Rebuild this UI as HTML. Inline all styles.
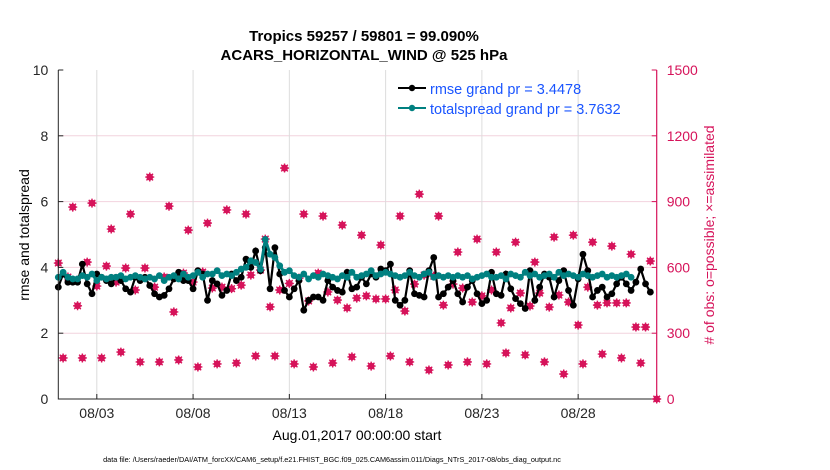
<!DOCTYPE html>
<html><head><meta charset="utf-8"><style>
body{margin:0;background:#fff;}
svg{display:block;font-family:"Liberation Sans",sans-serif;}
</style></head><body>
<svg id="chart" width="830" height="470" viewBox="0 0 830 470" xmlns="http://www.w3.org/2000/svg">
<rect width="830" height="470" fill="#fff"/>
<text x="364" y="41" font-size="15" font-weight="bold" text-anchor="middle" fill="#000">Tropics 59257 / 59801 = 99.090%</text>
<text x="364" y="60" font-size="15" font-weight="bold" text-anchor="middle" fill="#000">ACARS_HORIZONTAL_WIND @ 525 hPa</text>
<g id="grid"></g>
<g id="marks"></g>
<g id="axes"></g>
<text transform="translate(29,235) rotate(-90)" font-size="14" text-anchor="middle" fill="#000">rmse and totalspread</text>
<text transform="translate(714,235) rotate(-90)" font-size="14" text-anchor="middle" fill="#d6135a">#  of obs: o=possible; ×=assimilated</text>
<text x="357" y="440" font-size="14" text-anchor="middle" fill="#000">Aug.01,2017 00:00:00 start</text>
<text x="332" y="462" font-size="7.3" text-anchor="middle" fill="#000">data file: /Users/raeder/DAI/ATM_forcXX/CAM6_setup/f.e21.FHIST_BGC.f09_025.CAM6assim.011/Diags_NTrS_2017-08/obs_diag_output.nc</text>
<g>
<line x1="398" y1="88" x2="426" y2="88" stroke="#000" stroke-width="2"/>
<circle cx="412" cy="88" r="3.2" fill="#000"/>
<text x="430" y="94" font-size="14.5" fill="#1a55ff">rmse grand pr = 3.4478</text>
<line x1="398" y1="108" x2="426" y2="108" stroke="#008080" stroke-width="2"/>
<circle cx="412" cy="108" r="3.2" fill="#008080"/>
<text x="430" y="114" font-size="14.5" fill="#1a55ff">totalspread grand pr = 3.7632</text>
</g>
</svg>
<script>
// 6-hourly values, 31 days
const rmse = [3.4,3.8,3.55,3.55, 3.55,4.1,3.5,3.2, 3.8,3.7,3.6,3.5, 3.7,3.6,3.35,3.25, 3.7,3.6,3.7,3.45, 3.2,3.1,3.15,3.35, 3.65,3.85,3.6,3.6, 3.35,3.9,3.8,3.0, 3.6,3.5,3.15,3.3, 3.8,3.6,3.7,4.25, 4.0,4.5,3.9,4.6, 3.35,4.6,3.8,3.3, 3.1,3.35,3.6,2.7, 3.0,3.1,3.1,3.0, 3.6,3.4,3.3,3.25, 3.85,3.35,3.4,3.7, 3.5,3.8,3.7,3.95, 3.9,4.1,3.0,2.85, 3.0,3.9,3.2,3.15, 3.1,3.9,4.3,3.1, 3.2,3.4,3.6,3.2, 2.95,3.4,3.6,3.2, 2.9,3.0,3.85,3.2, 3.15,3.8,3.35,3.05, 2.9,2.75,3.9,3.0, 3.4,3.8,3.7,3.1, 3.6,3.9,3.3,2.85, 3.65,4.4,3.9,3.1, 3.3,3.4,3.1,3.2, 3.5,3.7,3.5,3.3, 3.55,3.95,3.5,3.25];
const spread = [3.7,3.85,3.7,3.65, 3.65,3.75,3.7,3.8, 3.6,3.7,3.65,3.7, 3.7,3.75,3.65,3.7, 3.75,3.7,3.65,3.7, 3.65,3.75,3.6,3.7, 3.75,3.65,3.8,3.7, 3.75,3.85,3.7,3.8, 3.8,3.9,3.75,3.8, 3.75,3.85,3.95,4.0, 4.2,4.15,3.95,4.85, 4.4,4.3,4.05,3.85, 3.9,3.75,3.7,3.8, 3.65,3.75,3.7,3.8, 3.75,3.7,3.65,3.75, 3.7,3.85,3.7,3.75, 3.8,3.9,3.75,3.8, 3.85,3.8,3.75,3.7, 3.75,3.85,3.75,3.7, 3.8,3.85,3.7,3.75, 3.7,3.75,3.7,3.75, 3.7,3.75,3.65,3.7, 3.75,3.8,3.7,3.7, 3.75,3.65,3.8,3.75, 3.7,3.85,3.75,3.8, 3.7,3.75,3.8,3.7, 3.85,3.75,3.8,3.75, 3.7,3.8,3.75,3.7, 3.75,3.8,3.7,3.75, 3.7,3.75,3.8,3.7];
// obs counts by synoptic hour (31 days each)
const obs00 = [620,425,515,533,497,510,397,533,506,503,565,420,527,447,488,415,470,456,401,565,428,506,470,347,483,483,474,337,428,438,328];
const obs06 = [187,187,187,214,169,169,178,146,160,164,196,196,160,146,164,192,150,196,169,132,155,169,160,210,201,169,114,160,205,187,164];
const obs12 = [556,624,606,597,597,556,574,579,510,519,588,497,551,574,451,460,456,497,524,560,524,442,497,415,424,419,442,510,438,438,328];
const obs18 = [875,893,775,843,1012,879,770,802,862,843,729,1053,843,834,793,747,702,834,934,834,670,729,670,715,624,738,747,715,697,660,629];
const xTicks = [2,7,12,17,22,27];
const xTickLabels = ['08/03','08/08','08/13','08/18','08/23','08/28'];
const yTicks = [0,2,4,6,8,10];
const yTicksRight = [0,300,600,900,1200,1500];

const L=58.3,R=656.7,T=70,B=399, XMAX=31.08;
const xs = d => L + (d/XMAX)*(R-L);
const yL = v => B - (v/10)*(B-T);
const yR = v => B - (v/1500)*(B-T);
const NS='http://www.w3.org/2000/svg';
function mk(tag, attrs, parent){const e=document.createElementNS(NS,tag);for(const k in attrs)e.setAttribute(k,attrs[k]);parent.appendChild(e);return e;}
const grid=document.getElementById('grid'), marks=document.getElementById('marks'), axes=document.getElementById('axes');

yTicks.slice(1,-1).forEach(v=>{
  const g=mk('line',{x1:L,x2:R,y1:yL(v),y2:yL(v),stroke:'#f2d3de','stroke-width':1},grid);
  
  
});
xTicks.forEach(d=>{
  const g=mk('line',{x1:xs(d),x2:xs(d),y1:T,y2:B,stroke:'#dcdcdc','stroke-width':1},grid);
  
  
});

function obsMark(d,v){
  const x=xs(d), y=yR(v);
  const g=mk('g',{},marks);
  
  
  mk('circle',{cx:x,cy:y,r:3.4,fill:'#d6135a'},g);
  mk('path',{d:`M${x-4.5} ${y}H${x+4.5}M${x} ${y-4.5}V${y+4.5}M${x-3.3} ${y-3.3}L${x+3.3} ${y+3.3}M${x-3.3} ${y+3.3}L${x+3.3} ${y-3.3}`,stroke:'#d6135a','stroke-width':1.4},g);
}
[obs00,obs06,obs12,obs18].forEach((arr,h)=>arr.forEach((v,d)=>obsMark(d+h*0.25,v)));
obsMark(31.08,0);

function series(arr,color,name,w){
  const pts=arr.map((v,i)=>[xs(i*0.25),yL(v)]);
  const p=mk('polyline',{points:pts.map(p=>p.join(',')).join(' '),fill:'none',stroke:color,'stroke-width':w},marks);
  
  
  pts.forEach(q=>{
    const c=mk('circle',{cx:q[0],cy:q[1],r:3.4,fill:color},marks);
    
    
  });
}
series(rmse,'#000','rmse',2.2);
series(spread,'#008080','totalspread',3);

const ax=mk('path',{d:`M${L} ${T}V${B}H${R}`,stroke:'#262626',fill:'none','stroke-width':1},axes);


const ar=mk('line',{x1:R,x2:R,y1:T,y2:B,stroke:'#d6135a','stroke-width':1.2},axes);


yTicks.forEach(v=>{
  mk('line',{x1:L,x2:L+5,y1:yL(v),y2:yL(v),stroke:'#262626'},axes);
  const t=mk('text',{x:L-10,y:yL(v)+5,'font-size':14,'text-anchor':'end',fill:'#262626'},axes);
  t.textContent=v;
  
  
});
yTicksRight.forEach(v=>{
  mk('line',{x1:R-5,x2:R,y1:yR(v),y2:yR(v),stroke:'#d6135a'},axes);
  const t=mk('text',{x:R+10,y:yR(v)+5,'font-size':14,fill:'#d6135a'},axes);
  t.textContent=v;
  
  
});
xTicks.forEach((d,i)=>{
  mk('line',{x1:xs(d),x2:xs(d),y1:B,y2:B-5,stroke:'#262626'},axes);
  const t=mk('text',{x:xs(d),y:B+19,'font-size':14,'text-anchor':'middle',fill:'#262626'},axes);
  t.textContent=xTickLabels[i];
  
  
});
</script>
</body></html>
